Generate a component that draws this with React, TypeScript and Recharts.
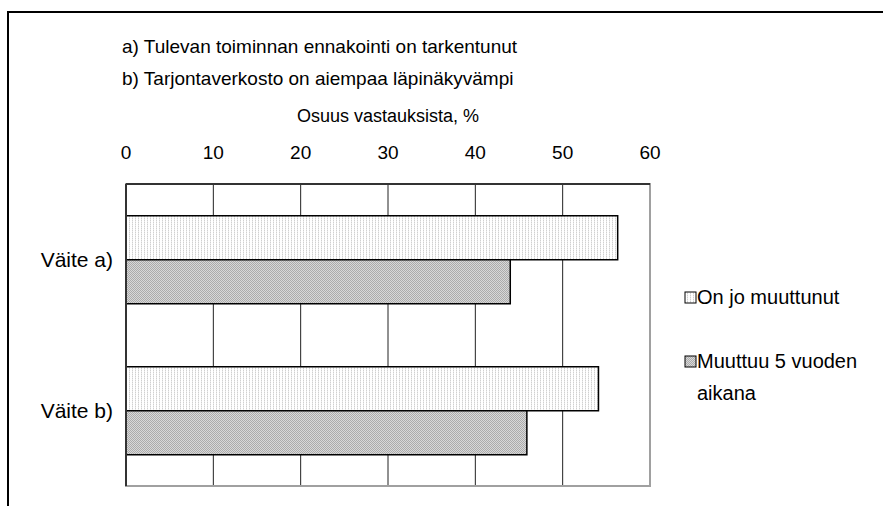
import React from "react";
import {
  BarChart,
  Bar,
  XAxis,
  YAxis,
  CartesianGrid,
  ReferenceArea,
} from "recharts";

// Statements on the category axis
const categories = ["Väite a)", "Väite b)"];

// Share of answers (%) per statement
const onJoMuuttunut = [56.3, 54.1];
const muuttuu5Vuoden = [44.0, 45.9];

const seriesNames = ["On jo muuttunut", "Muuttuu 5 vuoden aikana"];
const xTicks = [0, 10, 20, 30, 40, 50, 60];
const gridValues = [10, 20, 30, 40, 50];

const titleLines = [
  "a) Tulevan toiminnan ennakointi on tarkentunut",
  "b) Tarjontaverkosto on aiempaa läpinäkyvämpi",
];
const axisTitle = "Osuus vastauksista, %";

const data = categories.map((name, i) => ({
  name,
  onJo: onJoMuuttunut[i],
  muuttuu: muuttuu5Vuoden[i],
}));

const FONT = '"Liberation Sans", Arial, sans-serif';

const Patterns = () => (
  <defs>
    <pattern id="patOnJo" patternUnits="userSpaceOnUse" width="3" height="2">
      <rect x="0" y="0" width="3" height="2" fill="#ffffff" />
      <rect x="0" y="0" width="1" height="1" fill="#d0d0d0" />
      <rect x="0" y="1" width="1" height="1" fill="#eaeaea" />
    </pattern>
    <pattern id="patMuuttuu" patternUnits="userSpaceOnUse" width="2" height="2">
      <rect x="0" y="0" width="2" height="2" fill="#d8d8d8" />
      <rect x="0" y="0" width="1" height="1" fill="#ababab" />
      <rect x="1" y="1" width="1" height="1" fill="#ababab" />
    </pattern>
  </defs>
);

const fills = ["url(#patOnJo)", "url(#patMuuttuu)"];

const legendItems = [
  { label: [seriesNames[0]], top: 286, fill: fills[0] },
  { label: ["Muuttuu 5 vuoden", "aikana"], top: 350, fill: fills[1] },
];

export default function App() {
  return (
    <div
      style={{
        position: "absolute",
        left: 0,
        top: 0,
        width: 883,
        height: 506,
        background: "#fff",
        overflow: "hidden",
        fontFamily: FONT,
        color: "#000",
      }}
    >
      {/* outer frame: top and left edges */}
      <div
        style={{
          position: "absolute",
          left: 7,
          top: 11,
          width: 900,
          height: 520,
          borderTop: "2px solid #000",
          borderLeft: "2px solid #000",
        }}
      />
      {titleLines.map((t, i) => (
        <div
          key={t}
          style={{
            position: "absolute",
            left: 122,
            top: 36 + i * 32,
            fontSize: 19,
            lineHeight: "22px",
            whiteSpace: "nowrap",
          }}
        >
          {t}
        </div>
      ))}
      <div style={{ position: "absolute", left: 0, top: 0 }}>
        <BarChart
          width={883}
          height={506}
          data={data}
          layout="vertical"
          margin={{ top: 124, left: 26, right: 233, bottom: 20 }}
          barCategoryGap="21%"
          barGap={0}
        >
          <Patterns />
          <CartesianGrid
            horizontal={false}
            verticalValues={gridValues}
            stroke="#222"
            strokeWidth={1}
          />
          <XAxis
            type="number"
            orientation="top"
            domain={[0, 60]}
            ticks={xTicks}
            height={60}
            tickSize={0}
            tickMargin={25}
            tickLine={false}
            axisLine={{ stroke: "#333", strokeWidth: 2 }}
            tick={{ fill: "#000", fontSize: 19, fontFamily: FONT }}
            label={{
              value: axisTitle,
              position: "top",
              offset: 2,
              fill: "#000",
              fontSize: 18,
              fontFamily: FONT,
            }}
          />
          <YAxis
            type="category"
            dataKey="name"
            width={100}
            tickSize={0}
            tickMargin={13}
            tickLine={false}
            axisLine={{ stroke: "#333", strokeWidth: 2 }}
            tick={{ fill: "#000", fontSize: 21, fontFamily: FONT }}
          />
          <Bar
            dataKey="onJo"
            name={seriesNames[0]}
            fill={fills[0]}
            stroke="#000"
            strokeWidth={1.5}
            isAnimationActive={false}
          />
          <Bar
            dataKey="muuttuu"
            name={seriesNames[1]}
            fill={fills[1]}
            stroke="#000"
            strokeWidth={1.5}
            isAnimationActive={false}
          />
          <ReferenceArea
            x1={0}
            x2={60}
            fill="none"
            stroke="#a0a0a0"
            strokeWidth={2}
          />
        </BarChart>
      </div>
      {legendItems.map((item) => (
        <div
          key={item.label[0]}
          style={{ position: "absolute", left: 684, top: item.top }}
        >
          <svg
            width={14}
            height={14}
            style={{ position: "absolute", left: 0, top: 5 }}
          >
            <Patterns />
            <rect
              x={1}
              y={1}
              width={11}
              height={11}
              fill={item.fill}
              stroke="#000"
              strokeWidth={1}
            />
          </svg>
          {item.label.map((line, j) => (
            <div
              key={line}
              style={{
                position: "absolute",
                left: 13,
                top: j * 32 - 1,
                fontSize: 20,
                lineHeight: "24px",
                whiteSpace: "nowrap",
              }}
            >
              {line}
            </div>
          ))}
        </div>
      ))}
    </div>
  );
}
